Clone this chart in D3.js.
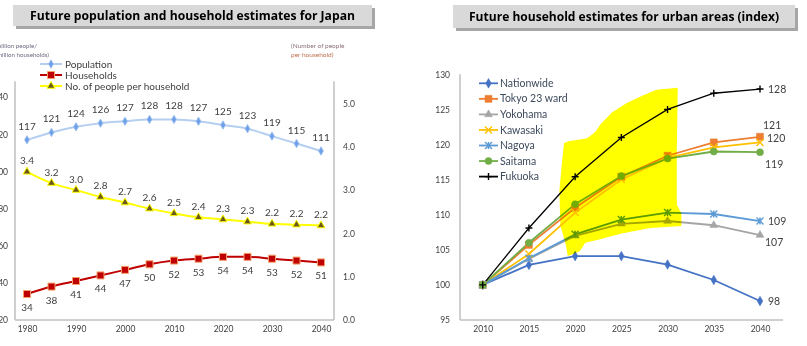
<!DOCTYPE html>
<html><head><meta charset="utf-8">
<script src="https://cdn.jsdelivr.net/npm/d3@7"></script>
<style>
body{margin:0;background:#fff}
svg{display:block}
text{font-family:Lato,"Open Sans",sans-serif}
</style>
</head><body>
<svg id="c" width="807" height="346"></svg>
<script>
// ---------- data: left chart ----------
const years = [1980,1985,1990,1995,2000,2005,2010,2015,2020,2025,2030,2035,2040];
const population = [117,121,124,126,127,128,128,127,125,123,119,115,111];
const households = [34,38,41,44,47,50,52,53,54,54,53,52,51];
const peoplePerHousehold = [3.42,3.16,3.0,2.84,2.71,2.57,2.46,2.37,2.32,2.27,2.22,2.2,2.18];
const leftTicks = [20,40,60,80,100,120,140];
const rightTicks = [0,1,2,3,4,5];
const leftYearTicks = [1980,1990,2000,2010,2020,2030,2040];
const leftLegend = ["Population","Households","No. of people per household"];

// ---------- data: right chart ----------
const urbanYears = [2010,2015,2020,2025,2030,2035,2040];
const urbanNames = ["Nationwide","Tokyo 23 ward","Yokohama","Kawasaki","Nagoya","Saitama","Fukuoka"];
const nationwide = [100,102.85,104.1,104.1,102.9,100.7,97.7];
const tokyo23 = [100,105.7,111.0,115.4,118.4,120.3,121.1];
const yokohama = [100,103.7,107.0,108.7,109.1,108.5,107.1];
const kawasaki = [100,104.4,110.3,115.0,118.1,119.6,120.3];
const nagoya = [100,103.8,107.2,109.3,110.3,110.1,109.1];
const saitama = [100,106.0,111.5,115.5,118.0,119.0,118.9];
const fukuoka = [100,108.1,115.4,121.0,125.0,127.3,127.9];
const urbanTicks = [95,100,105,110,115,120,125,130];
// highlighter annotation outline, in (year, index) space
const highlightYears = [2018.8,2019.4,2020.0,2021.3,2022.2,2022.7,2024.0,2025.6,2027.2,2028.8,2031.1,2031.0,2031.0,2031.5,2031.5,2028.1,2024.9,2022.7,2021.1,2020.5,2019.2,2019.0,2018.4,2018.3,2018.6];
const highlightValues = [120.2,120.5,120.6,120.9,121.8,122.8,124.6,125.9,126.9,127.8,128.1,119.2,111.4,110.2,108.4,108.1,107.3,106.5,106.0,104.8,104.1,105.7,108.5,113.5,117.8];

// ---------- styles / layout ----------
const urbanSeries = [nationwide,tokyo23,yokohama,kawasaki,nagoya,saitama,fukuoka];
const urbanColors = ["#4472C4","#ED7D31","#A5A5A5","#FFC000","#5B9BD5","#70AD47","#000000"];
const urbanMarkers = ["diamond","square","triangle","x","asterisk","circle","plus"];
// end label placement [dx, dy]
const urbanLabelOffset = [[8,4],[3,-8],[5,11],[7,0],[8,3.5],[5,16],[8,3.5]];

const svg = d3.select("#c");
const txt = "#404040";

function titleBox(x,y,w,h,label,tw){
  svg.append("rect").attr("x",x+3).attr("y",y+3).attr("width",w).attr("height",h).attr("fill","#a6a6a6");
  svg.append("rect").attr("x",x).attr("y",y).attr("width",w).attr("height",h).attr("fill","#d9d9d9");
  svg.append("text").attr("x",x+w/2).attr("y",y+h/2+4.5).attr("text-anchor","middle")
    .attr("font-size",13).attr("font-weight","bold").attr("fill","#000")
    .attr("textLength",tw).attr("lengthAdjust","spacingAndGlyphs")
    .style("font-family","'Open Sans',Lato,sans-serif").text(label);
}
titleBox(13,5,359,21,"Future population and household estimates for Japan",325);
titleBox(453,5,342,23,"Future household estimates for urban areas (index)",310);

function marker(g,type,x,y,color,size,stroke){
  const s=size/2;
  if(type==="diamond"||type==="square"||type==="triangle"||type==="circle"){
    const sym={diamond:d3.symbolDiamond,square:d3.symbolSquare,triangle:d3.symbolTriangle,circle:d3.symbolCircle}[type];
    const area={diamond:size*size*0.55,square:size*size,triangle:size*size*0.55,circle:size*size*0.8}[type];
    g.append("path").attr("d",d3.symbol(sym,area)()).attr("transform",`translate(${x},${y})`)
      .attr("fill",color).attr("stroke",stroke||color).attr("stroke-width",stroke?1:0.5);
  } else {
    let d="";
    if(type==="x"||type==="asterisk") d+=`M${-s},${-s}L${s},${s}M${-s},${s}L${s},${-s}`;
    if(type==="asterisk") d+=`M0,${-s}L0,${s}`;
    if(type==="plus") d+=`M${-s},0L${s},0M0,${-s}L0,${s}`;
    g.append("path").attr("d",d).attr("transform",`translate(${x},${y})`)
      .attr("fill","none").attr("stroke",color).attr("stroke-width",1.4);
  }
}

// ================= LEFT CHART =================
const xL = d3.scaleLinear().domain([1980,2040]).range([27,321]);
const yL = d3.scaleLinear().domain([20,160]).range([320,60]);
const yR = d3.scaleLinear().domain([0,6]).range([320,60]);
const L = svg.append("g");

const axisCol="#bfbfbf";
L.append("line").attr("x1",15).attr("x2",15).attr("y1",yL(148.6)).attr("y2",yL(20)).attr("stroke",axisCol).attr("stroke-width",1.5);
L.append("line").attr("x1",334).attr("x2",334).attr("y1",yL(148.6)).attr("y2",yL(20)).attr("stroke",axisCol).attr("stroke-width",1.5);
L.append("line").attr("x1",15).attr("x2",334).attr("y1",yL(20)).attr("y2",yL(20)).attr("stroke",axisCol).attr("stroke-width",1.5);

const axL = L.append("g").attr("transform","translate(8,0)")
  .call(d3.axisLeft(yL).tickValues(leftTicks).tickSize(0).tickPadding(0));
const axR = L.append("g").attr("transform","translate(343,0)")
  .call(d3.axisRight(yR).tickValues(rightTicks).tickSize(0).tickPadding(0).tickFormat(d3.format(".1f")));
const axX = L.append("g").attr("transform","translate(0,326)")
  .call(d3.axisBottom(xL).tickValues(leftYearTicks).tickSize(0).tickPadding(0).tickFormat(d3.format("d")));
[axL,axR,axX].forEach(a=>{a.select(".domain").remove();a.selectAll("text").attr("fill",txt).attr("font-size",8.5).style("font-family","Lato,sans-serif");});
axX.selectAll("text").attr("dy","0.71em");

// axis titles
L.append("text").attr("x",37).attr("y",48).attr("text-anchor","end").attr("font-size",6.2).attr("fill","#6d6a80").text("(million people/");
L.append("text").attr("x",49).attr("y",57).attr("text-anchor","end").attr("font-size",6.2).attr("fill","#6d6a80").text("million households)");
L.append("text").attr("x",291).attr("y",48).attr("font-size",6.5).attr("fill","#8a6f78").text("(Number of people");
L.append("text").attr("x",291).attr("y",57).attr("font-size",6.5).attr("fill","#c07050").text("per household)");

const lineL = (ys)=>d3.line().x((d,i)=>xL(years[i])).y(d=>ys(d)).curve(d3.curveMonotoneX);

L.append("path").datum(population).attr("d",lineL(yL)).attr("fill","none").attr("stroke","#b4cff0").attr("stroke-width",2);
population.forEach((v,i)=>marker(L,"diamond",xL(years[i]),yL(v),"#6d9fe8",6,"#9cc0f0"));
population.forEach((v,i)=>L.append("text").attr("x",xL(years[i])).attr("y",yL(v)-10).attr("text-anchor","middle").attr("font-size",10).attr("fill",txt).text(v));

L.append("path").datum(households).attr("d",lineL(yL)).attr("fill","none").attr("stroke","#c00000").attr("stroke-width",2);
households.forEach((v,i)=>marker(L,"square",xL(years[i]),yL(v),"#c00000",7,"#f4a06a"));
households.forEach((v,i)=>L.append("text").attr("x",xL(years[i])).attr("y",yL(v)+17).attr("text-anchor","middle").attr("font-size",10).attr("fill",txt).text(v));

L.append("path").datum(peoplePerHousehold).attr("d",lineL(yR)).attr("fill","none").attr("stroke","#ffff00").attr("stroke-width",2);
peoplePerHousehold.forEach((v,i)=>marker(L,"triangle",xL(years[i]),yR(v),"#6b5a1a",7,"#ffff00"));
peoplePerHousehold.forEach((v,i)=>L.append("text").attr("x",xL(years[i])).attr("y",yR(v)-7.5).attr("text-anchor","middle").attr("font-size",10).attr("fill",txt).text(v.toFixed(1)));

const legStyles=[["#b4cff0","diamond","#6d9fe8","#9cc0f0",6],["#c00000","square","#c00000","#f4a06a",7],["#ffff00","triangle","#6b5a1a","#ffff00",7]];
leftLegend.forEach((name,i)=>{
  const y=64+i*11;
  const st=legStyles[i];
  L.append("line").attr("x1",40).attr("x2",62).attr("y1",y).attr("y2",y).attr("stroke",st[0]).attr("stroke-width",2);
  marker(L,st[1],51,y,st[2],st[4],st[3]);
  L.append("text").attr("x",65).attr("y",y+3.5).attr("font-size",10).attr("fill",txt).text(name);
});

// ================= RIGHT CHART =================
const xU = d3.scaleLinear().domain([2010,2040]).range([482.7,760]);
const yU = d3.scaleLinear().domain([95,130]).range([320,74.3]);
const R = svg.append("g");
R.append("line").attr("x1",460).attr("x2",460).attr("y1",yU(130)).attr("y2",yU(95)).attr("stroke",axisCol).attr("stroke-width",1.5);
R.append("line").attr("x1",460).attr("x2",783).attr("y1",yU(95)).attr("y2",yU(95)).attr("stroke",axisCol).attr("stroke-width",1.5);
const axU = R.append("g").attr("transform","translate(450,0)").call(d3.axisLeft(yU).tickValues(urbanTicks).tickSize(0).tickPadding(0));
const axUX = R.append("g").attr("transform","translate(0,326)").call(d3.axisBottom(xU).tickValues(urbanYears).tickSize(0).tickPadding(0).tickFormat(d3.format("d")));
[axU,axUX].forEach(a=>{a.select(".domain").remove();a.selectAll("text").attr("fill",txt).attr("font-size",8.5).style("font-family","Lato,sans-serif");});
axUX.selectAll("text").attr("dy","0.71em");

const lineU = d3.line().x((d,i)=>xU(urbanYears[i])).y(d=>yU(d));
urbanSeries.forEach((s,k)=>{
  R.append("path").datum(s).attr("d",lineU).attr("fill","none").attr("stroke",urbanColors[k]).attr("stroke-width",k===6?1.3:1.8);
});
urbanSeries.forEach((s,k)=>{
  s.forEach((v,i)=>marker(R,urbanMarkers[k],xU(urbanYears[i]),yU(v),urbanColors[k],7));
});
urbanSeries.forEach((s,k)=>{
  const last=s[s.length-1];
  const off = urbanLabelOffset[k];
  R.append("text").attr("x",xU(urbanYears[urbanYears.length-1])+off[0]).attr("y",yU(last)+off[1])
    .attr("font-size",10.5).attr("fill",txt).text(Math.round(last));
});

// highlighter
const hl = d3.line().x(d=>xU(d[0])).y(d=>yU(d[1])).curve(d3.curveLinearClosed);
R.append("path").datum(highlightYears.map((y,i)=>[y,highlightValues[i]])).attr("d",hl)
  .attr("fill","#ffff00").style("mix-blend-mode","multiply");

urbanNames.forEach((name,k)=>{
  const y=83.3+k*15.55;
  R.append("line").attr("x1",479).attr("x2",498).attr("y1",y).attr("y2",y).attr("stroke",urbanColors[k]).attr("stroke-width",1.8);
  marker(R,urbanMarkers[k],488.5,y,urbanColors[k],7);
  R.append("text").attr("x",500).attr("y",y+3.6).attr("font-size",10.5).attr("fill","#3d4a5c").text(name);
});
</script>
</body></html>
